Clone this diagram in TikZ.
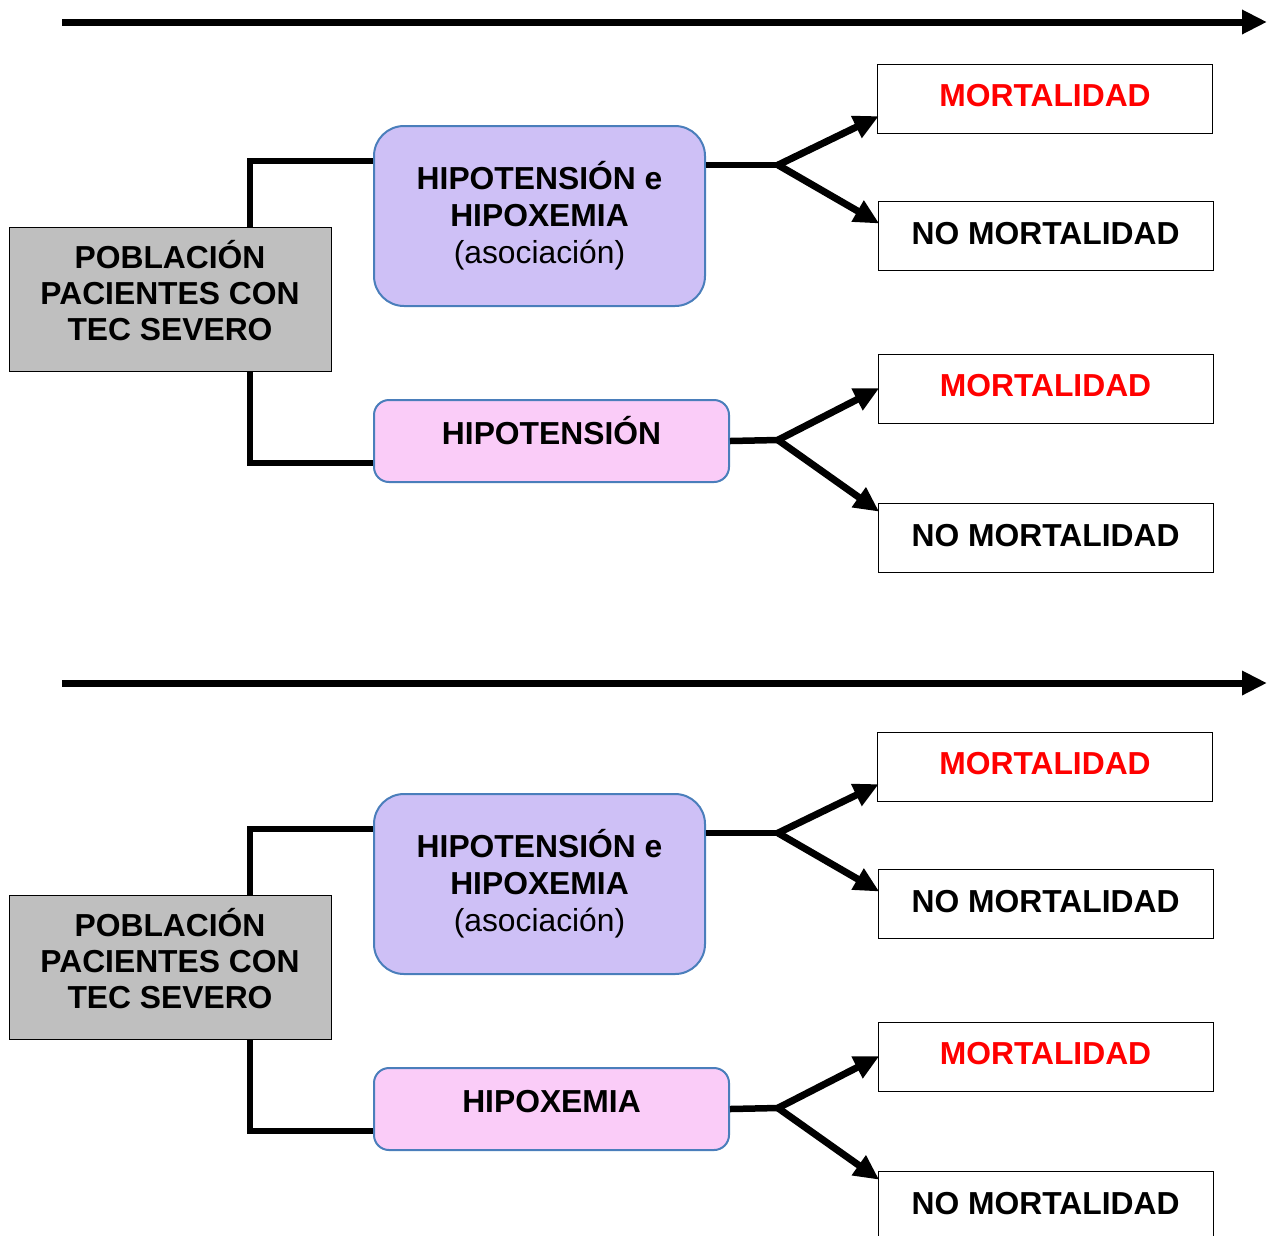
\documentclass[tikz,border=0pt]{standalone}
\usepackage{fontspec}
\setmainfont{Liberation Sans}
\usepackage{tikz}
\usetikzlibrary{
    shapes,
    arrows.meta,
}
\definecolor{grayfill}{RGB}{191,191,191}
\definecolor{lilafill}{RGB}{206,192,246}
\definecolor{rosafill}{RGB}{250,204,248}
\definecolor{bordeazul}{RGB}{74,126,187}
\newcommand{\boxfont}{\fontsize{31.8}{36}\selectfont\bfseries}
\newcommand{\outwidth}{335pt}
\newcommand{\outheight}{69pt}
\tikzstyle{timearrow} = [line width=7pt, -{Triangle[length=25pt,width=23pt]}]
\tikzstyle{brancharrow} = [line width=7pt, -{Triangle[length=25pt,width=23pt]}, shorten >=-2pt]
\tikzstyle{joinline} = [line width=6.5pt]
\tikzstyle{poblacion} = [
  draw,
  shape=rectangle,
  color=black,
  fill=grayfill,
  line width=1pt,
  minimum width=322pt,
  minimum height=144pt,
  align=center,
  text depth=18pt,
  font=\boxfont,
]
\tikzstyle{asociacion} = [
  draw=bordeazul,
  shape=rectangle,
  rounded corners=30pt,
  fill=lilafill,
  line width=2pt,
  minimum width=331pt,
  minimum height=180pt,
  align=center,
  font=\fontsize{31.8}{37}\selectfont\bfseries,
]
\tikzstyle{factor} = [
  draw=bordeazul,
  shape=rectangle,
  rounded corners=15pt,
  fill=rosafill,
  line width=2pt,
  minimum width=355pt,
  minimum height=82pt,
  text height=23pt,
  text depth=16pt,
  font=\boxfont,
]
\tikzstyle{mortal} = [
  draw,
  shape=rectangle,
  line width=1pt,
  text=red,
  minimum width=\outwidth,
  minimum height=\outheight,
  text height=23pt,
  text depth=8pt,
  font=\boxfont,
]
\tikzstyle{nomortal} = [
  draw,
  shape=rectangle,
  line width=1pt,
  minimum width=\outwidth,
  minimum height=\outheight,
  text height=23pt,
  text depth=6pt,
  font=\boxfont,
]

\begin{document}
\begin{tikzpicture}[x=1pt, y=-1pt]
    \useasboundingbox (0,0) rectangle (1273,1235);
    % upper half
    \coordinate (ta) at (62,22);
    \coordinate (tb) at (1267,22);
    \draw[timearrow] (ta) -- (tb);
    \node[poblacion] (pob1) at (170,299) {POBLACIÓN\\PACIENTES CON\\TEC SEVERO};
    \node[asociacion] (aso1) at (539.5,216) {HIPOTENSIÓN e\\HIPOXEMIA\\{\mdseries (asociación)}};
    \node[factor] (fac1) at (551.5,441) {HIPOTENSIÓN};
    \node[mortal] (mor1) at (1045,99) {MORTALIDAD};
    \node[nomortal] (nom1) at (1045.5,235.5) {NO MORTALIDAD};
    \node[mortal] (mor2) at (1045.5,389) {MORTALIDAD};
    \node[nomortal] (nom2) at (1045.5,537.5) {NO MORTALIDAD};
    \coordinate (ja1) at (778,165);
    \coordinate (jb1) at (778,440);
    \draw[joinline] ([xshift=80pt]pob1.north) |- ([yshift=55pt]aso1.west);
    \draw[joinline] ([xshift=80pt]pob1.south) |- ([yshift=-22pt]fac1.west);
    \draw[joinline] (aso1.east |- ja1) -- (ja1);
    \draw[joinline] (fac1.east) -- (jb1);
    \draw[brancharrow] (ja1) -- ([yshift=17pt]mor1.south west);
    \draw[brancharrow] (ja1) -- ([yshift=-22pt]nom1.north west);
    \draw[brancharrow] (jb1) -- (mor2.west);
    \draw[brancharrow] (jb1) -- ([yshift=-8pt]nom2.north west);
    % lower half
    \coordinate (tc) at (62,683);
    \coordinate (td) at (1267,683);
    \draw[timearrow] (tc) -- (td);
    \node[poblacion] (pob2) at (170,967) {POBLACIÓN\\PACIENTES CON\\TEC SEVERO};
    \node[asociacion] (aso2) at (539.5,884) {HIPOTENSIÓN e\\HIPOXEMIA\\{\mdseries (asociación)}};
    \node[factor] (fac2) at (551.5,1109) {HIPOXEMIA};
    \node[mortal] (mor3) at (1045,767) {MORTALIDAD};
    \node[nomortal] (nom3) at (1045.5,903.5) {NO MORTALIDAD};
    \node[mortal] (mor4) at (1045.5,1057) {MORTALIDAD};
    \node[nomortal] (nom4) at (1045.5,1205.5) {NO MORTALIDAD};
    \coordinate (ja2) at (778,833);
    \coordinate (jb2) at (778,1108);
    \draw[joinline] ([xshift=80pt]pob2.north) |- ([yshift=55pt]aso2.west);
    \draw[joinline] ([xshift=80pt]pob2.south) |- ([yshift=-22pt]fac2.west);
    \draw[joinline] (aso2.east |- ja2) -- (ja2);
    \draw[joinline] (fac2.east) -- (jb2);
    \draw[brancharrow] (ja2) -- ([yshift=17pt]mor3.south west);
    \draw[brancharrow] (ja2) -- ([yshift=-22pt]nom3.north west);
    \draw[brancharrow] (jb2) -- (mor4.west);
    \draw[brancharrow] (jb2) -- ([yshift=-8pt]nom4.north west);
\end{tikzpicture}
\end{document}
